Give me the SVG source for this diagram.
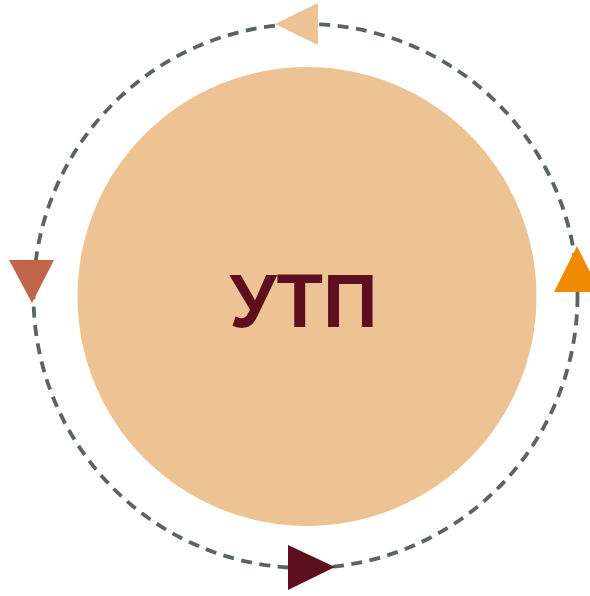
<svg xmlns="http://www.w3.org/2000/svg" width="590" height="596" viewBox="0 0 590 596">
<style>
.ring{fill:none;stroke:#5a6464;stroke-width:3.8;stroke-dasharray:11 7.5}
.lbl{font-family:"Liberation Sans",Arial,sans-serif;font-weight:bold;font-size:76px;fill:#5e0f1f;text-anchor:middle}
</style>
<rect width="590" height="596" fill="#ffffff"/>
<g id="connectors">
<circle class="ring" cx="305.5" cy="296" r="272"/>
<polygon points="275,24 318,3 318,45" fill="#edc393"/>
<polygon points="577,246 554,292 600,292" fill="#f08a00"/>
<polygon points="288,545 288,590 335,567" fill="#5e0f1f"/>
<polygon points="9,260 54,260 32,303" fill="#c0654a"/>
</g>
<g id="node-utp">
<circle cx="307" cy="296.5" r="229.5" fill="#edc393"/>
<text class="lbl" x="303.5" y="327">УТП</text>
</g>
</svg>
